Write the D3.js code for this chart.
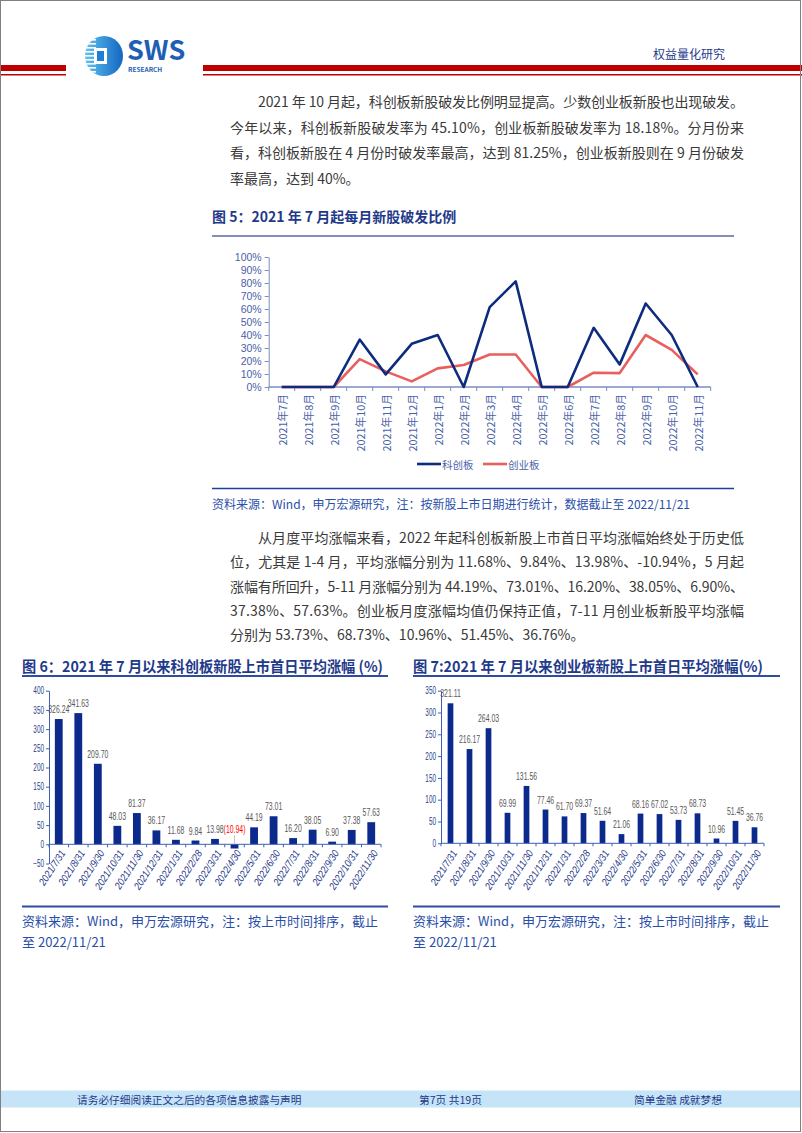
<!DOCTYPE html>
<html><head><meta charset="utf-8">
<script src="https://cdn.jsdelivr.net/npm/d3@7/dist/d3.min.js"></script>
<style>
body{margin:0;background:#fff}
svg{display:block}
text{font-family:"Noto Sans CJK SC","Noto Sans",sans-serif}
.nar{font-family:"Liberation Sans","Noto Sans CJK SC",sans-serif}
</style></head><body>
<script>
// ---------- data ----------
const months = ["2021年7月","2021年8月","2021年9月","2021年10月","2021年11月","2021年12月","2022年1月","2022年2月","2022年3月","2022年4月","2022年5月","2022年6月","2022年7月","2022年8月","2022年9月","2022年10月","2022年11月"];
const kcbBreak = [0,0,0,36.5,9.7,33.2,40,0,61.4,81.25,0,0,45.5,17.4,64.2,40,0];
const cybBreak = [0,0,0,21.5,12,4.3,14.3,16.9,25,25,0,0,11,10.7,40,28.6,9.7];
const pctTicks = [0,10,20,30,40,50,60,70,80,90,100];
const seriesNames = ["科创板","创业板"];

const dates = ["2021/7/31","2021/8/31","2021/9/30","2021/10/31","2021/11/30","2021/12/31","2022/1/31","2022/2/28","2022/3/31","2022/4/30","2022/5/31","2022/6/30","2022/7/31","2022/8/31","2022/9/30","2022/10/31","2022/11/30"];
const kcbRise = [326.24,341.63,209.70,48.03,81.37,36.17,11.68,9.84,13.98,-10.94,44.19,73.01,16.20,38.05,6.90,37.38,57.63];
const cybRise = [321.11,216.17,264.03,69.99,131.56,77.46,61.70,69.37,51.64,21.06,68.16,67.02,53.73,68.73,10.96,51.45,36.76];
const kcbTicks = [-50,0,50,100,150,200,250,300,350,400];
const cybTicks = [0,50,100,150,200,250,300,350];

const para1 = ["2021 年 10 月起，科创板新股破发比例明显提高。少数创业板新股也出现破发。",
"今年以来，科创板新股破发率为 45.10%，创业板新股破发率为 18.18%。分月份来",
"看，科创板新股在 4 月份时破发率最高，达到 81.25%，创业板新股则在 9 月份破发",
"率最高，达到 40%。"];
const para2 = ["从月度平均涨幅来看，2022 年起科创板新股上市首日平均涨幅始终处于历史低",
"位，尤其是 1-4 月，平均涨幅分别为 11.68%、9.84%、13.98%、-10.94%，5 月起",
"涨幅有所回升，5-11 月涨幅分别为 44.19%、73.01%、16.20%、38.05%、6.90%、",
"37.38%、57.63%。创业板月度涨幅均值仍保持正值，7-11 月创业板新股平均涨幅",
"分别为 53.73%、68.73%、10.96%、51.45%、36.76%。"];

// ---------- page ----------
const W=802,H=1133;
const svg=d3.select("body").append("svg").attr("width",W).attr("height",H);
svg.append("rect").attr("width",W).attr("height",H).attr("fill","#fff");
const NAVY="#1F3A8A", TXT="#3a3a3a";

// header
[[0,66],[203,W-203]].forEach(([x,w])=>{
  svg.append("rect").attr("x",x).attr("y",65).attr("width",w).attr("height",6).attr("fill","#C00000");
  svg.append("rect").attr("x",x).attr("y",74).attr("width",w).attr("height",1.5).attr("fill","#C00000");
});
// logo
const lg=svg.append("g");
const defs=svg.append("defs");
const gr=defs.append("linearGradient").attr("id","lgG").attr("x1",0).attr("y1",0).attr("x2",1).attr("y2",0);
gr.append("stop").attr("offset","0").attr("stop-color","#5EC2F0");
gr.append("stop").attr("offset","1").attr("stop-color","#1466C0");
lg.append("ellipse").attr("cx",104).attr("cy",56).attr("rx",19).attr("ry",20).attr("fill","url(#lgG)");
for(let i=0;i<9;i++){lg.append("rect").attr("x",84).attr("y",39+i*4).attr("width",12).attr("height",1.6).attr("fill","#fff");}
lg.append("rect").attr("x",94).attr("y",48).attr("width",13).attr("height",16).attr("fill","#fff");
lg.append("rect").attr("x",97).attr("y",51).attr("width",7).attr("height",10).attr("fill","#1C7FD4");
lg.append("text").attr("x",127).attr("y",60).attr("font-size",27).attr("font-weight","bold")
  .attr("font-family","Liberation Sans, Arial").attr("fill","#1E5FB4").text("SWS");
lg.append("text").attr("x",128).attr("y",71.5).attr("font-size",6.5).attr("font-weight","bold")
  .attr("font-family","Liberation Sans, Arial").attr("fill","#1E5FB4").text("RESEARCH");
svg.append("text").attr("x",725).attr("y",53).attr("text-anchor","end").attr("dominant-baseline","central")
  .attr("font-size",12).attr("fill",NAVY).text("权益量化研究");

// paragraphs
function para(lines, y0, lh){
  lines.forEach((s,i)=>{
    const x0 = i===0?258:230, last=i===lines.length-1;
    const t=svg.append("text").attr("x",x0).attr("y",y0+i*lh).attr("dominant-baseline","central")
      .attr("font-size",14).attr("fill",TXT).text(s);
    if(!last) t.attr("textLength",744-x0).attr("lengthAdjust","spacing");
  });
}
para(para1, 101, 25.5);

// ---------- Figure 5 ----------
svg.append("text").attr("x",212).attr("y",216).attr("dominant-baseline","central").attr("font-size",14)
  .attr("font-weight","bold").attr("fill",NAVY).text("图 5：2021 年 7 月起每月新股破发比例");
svg.append("line").attr("x1",212).attr("x2",734).attr("y1",236).attr("y2",236).attr("stroke","#8090B8").attr("stroke-width",2);

const AX5="#7A8CC0", LAB5="#4A62A8";
const x5=d3.scaleBand().domain(months).range([268.7,710.7]);
const y5=d3.scaleLinear().domain([0,100]).range([387,257]);
const g5=svg.append("g");
const yA5=g5.append("g").attr("transform","translate(268.7,0)")
  .call(d3.axisLeft(y5).tickValues(pctTicks).tickFormat(d=>d+"%").tickSize(4).tickSizeOuter(0));
yA5.select(".domain").attr("stroke",AX5);
yA5.selectAll(".tick line").attr("stroke",AX5);
yA5.selectAll(".tick text").attr("class","nar").attr("font-size",10.5).attr("fill",LAB5).attr("x",-7);
g5.append("line").attr("x1",268.7).attr("x2",710.7).attr("y1",y5(0)).attr("y2",y5(0)).attr("stroke",AX5).attr("stroke-width",1.5);
g5.selectAll(".xt").data(months.concat(["end"])).join("line")
  .attr("x1",(d,i)=>268.7+i*x5.step()).attr("x2",(d,i)=>268.7+i*x5.step())
  .attr("y1",y5(0)).attr("y2",y5(0)+4).attr("stroke",AX5);
g5.selectAll(".xl").data(months).join("text")
  .attr("transform",d=>`translate(${x5(d)+x5.bandwidth()/2},394) rotate(-90)`)
  .attr("text-anchor","end").attr("dominant-baseline","central").attr("font-size",10.8)
  .attr("font-family","Liberation Sans, Noto Sans CJK SC").attr("fill",LAB5).text(d=>d);
const ln=d3.line().x((d,i)=>x5(months[i])+x5.bandwidth()/2).y(d=>y5(d));
g5.append("path").datum(cybBreak).attr("d",ln).attr("fill","none").attr("stroke","#E8605E").attr("stroke-width",2.6).attr("stroke-linejoin","round");
g5.append("path").datum(kcbBreak).attr("d",ln).attr("fill","none").attr("stroke","#0E2C7E").attr("stroke-width",2.6).attr("stroke-linejoin","round");
const lgd=[{n:seriesNames[0],c:"#0E2C7E",x:417},{n:seriesNames[1],c:"#E8605E",x:483}];
lgd.forEach(o=>{
  g5.append("line").attr("x1",o.x).attr("x2",o.x+24).attr("y1",464).attr("y2",464).attr("stroke",o.c).attr("stroke-width",2.6);
  g5.append("text").attr("x",o.x+25).attr("y",464).attr("dominant-baseline","central").attr("font-size",10.5).attr("fill",LAB5).text(o.n);
});
svg.append("line").attr("x1",212).attr("x2",734).attr("y1",488.5).attr("y2",488.5).attr("stroke","#1F3F99").attr("stroke-width",1.6);
svg.append("text").attr("x",212).attr("y",503).attr("dominant-baseline","central").attr("font-size",12).attr("fill","#2A4FA8")
  .text("资料来源：Wind，申万宏源研究，注：按新股上市日期进行统计，数据截止至 2022/11/21");

para(para2, 537, 24.3);

// ---------- bar charts ----------
const SQ=0.64; // condensed label width
function barChart(o){
  const g=svg.append("g");
  g.append("text").attr("x",o.tx).attr("y",665).attr("dominant-baseline","central").attr("font-size",15)
   .attr("font-weight","bold").attr("fill",NAVY).attr("textLength",o.tw).attr("lengthAdjust","spacingAndGlyphs").text(o.title);
  g.append("line").attr("x1",o.tx).attr("x2",o.lineEnd).attr("y1",676).attr("y2",676).attr("stroke","#2F4DA0").attr("stroke-width",2);
  const x=d3.scaleBand().domain(dates).range([o.x0,o.x1]).paddingInner(o.pi).paddingOuter(o.pi/2);
  const y=d3.scaleLinear().domain(o.dom).range(o.yr);
  const ya=g.append("g").attr("transform",`translate(${o.x0},0)`)
    .call(d3.axisLeft(y).tickValues(o.ticks).tickSize(3).tickSizeOuter(0));
  ya.select(".domain").attr("stroke","#3F5FB8");
  ya.selectAll(".tick line").attr("stroke","#3F5FB8");
  ya.selectAll(".tick text").attr("class","nar").attr("font-size",10).attr("fill","#2A3F88")
    .attr("x",-5/SQ).attr("transform",`scale(${SQ},1)`);
  g.selectAll(".bar").data(o.vals).join("rect")
   .attr("x",(d,i)=>x(dates[i])).attr("width",x.bandwidth())
   .attr("y",d=>y(Math.max(0,d))).attr("height",d=>Math.abs(y(d)-y(0))).attr("fill","#0B2A8C");
  g.append("line").attr("x1",o.x0).attr("x2",o.x1).attr("y1",y(0)).attr("y2",y(0)).attr("stroke","#3F5FB8");
  g.selectAll(".xt").data(dates.concat(["e"])).join("line")
   .attr("x1",(d,i)=>o.x0+i*x.step()).attr("x2",(d,i)=>o.x0+i*x.step())
   .attr("y1",y(0)).attr("y2",y(0)+3).attr("stroke","#3F5FB8");
  g.selectAll(".vl").data(o.vals).join("text").attr("class","nar")
   .attr("transform",(d,i)=>`translate(${x(dates[i])+x.bandwidth()/2},${d<0?y(0)-11:y(d)-6}) scale(${SQ},1)`)
   .attr("text-anchor","middle").attr("font-size",10.8)
   .attr("fill",d=>d<0?"#FF0000":"#595959")
   .text(d=>d<0?`(${Math.abs(d).toFixed(2)})`:d.toFixed(2));
  o.vals.forEach((d,i)=>{ if(d<0){ const cx=x(dates[i])+x.bandwidth()/2;
    g.append("line").attr("x1",cx).attr("x2",cx).attr("y1",y(0)-9).attr("y2",y(0)-1).attr("stroke","#999").attr("stroke-width",0.6);}});
  g.selectAll(".dl").data(dates).join("text").attr("class","nar")
   .attr("transform",d=>`translate(${x(d)+x.bandwidth()/2+4},${o.ly}) rotate(-57) scale(0.85,1)`)
   .attr("text-anchor","end").attr("dominant-baseline","central").attr("font-size",10.5)
   .attr("font-style","italic").attr("fill","#1F3A8A").text(d=>d);
  g.append("line").attr("x1",o.tx).attr("x2",o.lineEnd).attr("y1",906.5).attr("y2",906.5).attr("stroke","#2F4DA0").attr("stroke-width",2);
  g.append("text").attr("x",o.tx).attr("y",920).attr("dominant-baseline","central").attr("font-size",13).attr("fill","#2A4FA8")
   .text("资料来源：Wind，申万宏源研究，注：按上市时间排序，截止");
  g.append("text").attr("x",o.tx).attr("y",941).attr("dominant-baseline","central").attr("font-size",13).attr("fill","#2A4FA8")
   .text("至 2022/11/21");
}
barChart({title:"图 6：2021 年 7 月以来科创板新股上市首日平均涨幅 (%)",tx:22,tw:361,lineEnd:388,
  x0:49,x1:381,pi:0.6,dom:[-50,400],yr:[863.5,690.7],ticks:kcbTicks,vals:kcbRise,ly:851});
barChart({title:"图 7:2021 年 7 月以来创业板新股上市首日平均涨幅(%)",tx:413,tw:350,lineEnd:780,
  x0:441,x1:764,pi:0.7,dom:[0,350],yr:[843.3,690.7],ticks:cybTicks,vals:cybRise,ly:851});

// footer
svg.append("rect").attr("x",1).attr("y",1090.5).attr("width",W-3).attr("height",17).attr("fill","#C6E4F8");
[[77,"请务必仔细阅读正文之后的各项信息披露与声明"],[419,"第7页 共19页"],[634,"简单金融 成就梦想"]].forEach(([x,s])=>{
  svg.append("text").attr("x",x).attr("y",1099.5).attr("dominant-baseline","central").attr("font-size",10.7).attr("fill",NAVY).text(s);
});
// border
svg.append("rect").attr("x",0.5).attr("y",0.5).attr("width",800).attr("height",1131).attr("fill","none").attr("stroke","#808080");
</script></body></html>
